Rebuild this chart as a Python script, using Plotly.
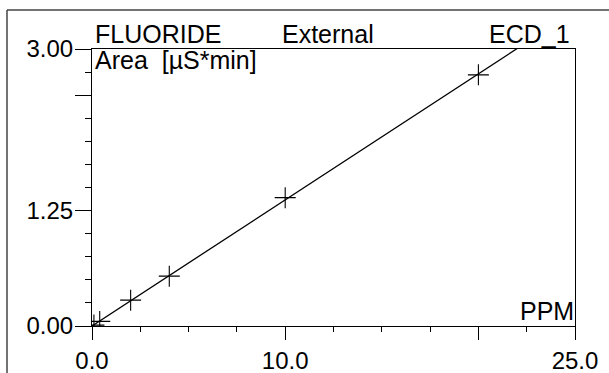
import numpy as np
import plotly.graph_objects as go

# ---- data ----
conc_ppm = [0.1, 0.4, 2.0, 4.0, 10.0, 20.0]
area_uS_min = [0.01, 0.05, 0.28, 0.54, 1.39, 2.72]

x_tickvals = [0, 10, 20, 25]
x_ticktext = ["0.0", "10.0", "", "25.0"]
y_tickvals = [0, 1.25, 2.5, 3.0]
y_ticktext = ["0.00", "1.25", "", "3.00"]

# calibration line through origin (least squares)
xa = np.array(conc_ppm)
ya = np.array(area_uS_min)
slope = float((xa * ya).sum() / (xa * xa).sum())
fit_x = np.array([0.0, 25.0])
fit_y = slope * fit_x

W, H = 609, 373
L, R, T, B = 92, 34, 49, 47
pw, ph = W - L - R, H - T - B


def px(xp):
    return (xp - L) / pw


def py(yp):
    return (H - B - yp) / ph


FONT = "Liberation Sans, Arial, sans-serif"
fig = go.Figure()
fig.add_trace(go.Scatter(x=fit_x, y=fit_y, mode="lines",
                         line=dict(color="black", width=1.3),
                         hoverinfo="skip", showlegend=False))
fig.add_trace(go.Scatter(x=conc_ppm, y=area_uS_min, mode="markers",
                         marker=dict(symbol="cross-thin", size=15,
                                     line=dict(color="black", width=1.1)),
                         showlegend=False))

axis_common = dict(showgrid=False, zeroline=False, showline=True, mirror=True,
                   linecolor="black", linewidth=1.2, ticks="outside",
                   tickcolor="black", tickwidth=1.2, automargin=False,
                   tickfont=dict(family=FONT, size=24, color="black"))
fig.update_xaxes(range=[0, 25], tickmode="array", tickvals=x_tickvals,
                 ticktext=x_ticktext, ticklen=13,
                 minor=dict(dtick=2.5, tick0=0, ticklen=5, ticks="outside",
                            tickcolor="black", tickwidth=1),
                 **axis_common)
fig.update_yaxes(range=[0, 3], tickmode="array", tickvals=y_tickvals,
                 ticktext=y_ticktext, ticklen=16, ticklabelstandoff=-3,
                 minor=dict(dtick=0.25, tick0=0, ticklen=6, ticks="outside",
                            tickcolor="black", tickwidth=1),
                 **axis_common)

ann_font = dict(family=FONT, size=25, color="black")
annotations = [
    dict(text="FLUORIDE", x=px(94), y=1, xanchor="left", yanchor="bottom"),
    dict(text="External", x=px(281), y=1, xanchor="left", yanchor="bottom"),
    dict(text="ECD_1", x=px(571), y=1, xanchor="right", yanchor="bottom"),
    dict(text="Area\u00a0 [µS*min]", x=px(94), y=1, xanchor="left",
         yanchor="top", yshift=4),
    dict(text="PPM", x=px(575), y=0, xanchor="right", yanchor="bottom"),
]
for a in annotations:
    a.update(xref="paper", yref="paper", showarrow=False, font=ann_font,
             borderpad=0)
fig.update_layout(annotations=annotations)

# outer frame (scanned page border)
fig.add_shape(type="line", xref="paper", yref="paper",
              x0=px(7), x1=px(7), y0=py(10), y1=py(373),
              line=dict(color="#444", width=1.5))
fig.add_shape(type="line", xref="paper", yref="paper",
              x0=px(7), x1=px(609), y0=py(10), y1=py(10),
              line=dict(color="#444", width=1.5))

fig.update_layout(width=W, height=H,
                  margin=dict(l=L, r=R, t=T, b=B, pad=0, autoexpand=False),
                  paper_bgcolor="white", plot_bgcolor="white",
                  showlegend=False)
fig.write_html("out.html")
